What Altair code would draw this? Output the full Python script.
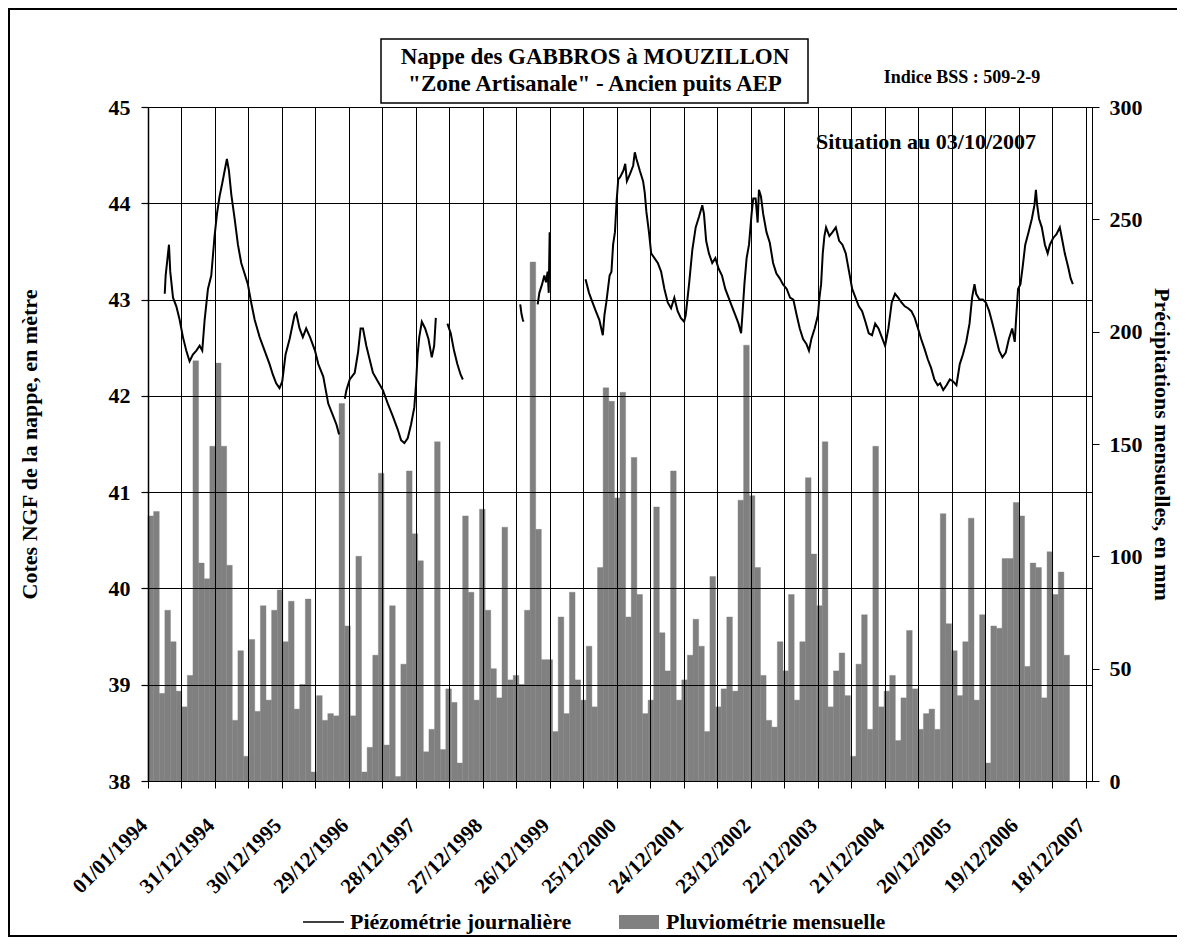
import datetime as dt
import altair as alt
import pandas as pd

FONT = "Liberation Serif"
GRAY = "#808080"

# ---------------- monthly rainfall (mm), Jan 1994 -> Aug 2007 ----------------
pluie_1994 = [118, 120, 39, 76, 62, 40, 33, 47, 187, 97, 90, 149]
pluie_1995 = [186, 149, 96, 27, 58, 11, 63, 31, 78, 36, 76, 85]
pluie_1996 = [62, 80, 32, 43, 81, 4, 38, 27, 30, 29, 168, 69]
pluie_1997 = [29, 100, 4, 15, 56, 137, 16, 78, 2, 52, 138, 110]
pluie_1998 = [98, 13, 23, 151, 14, 41, 35, 8, 118, 84, 36, 121]
pluie_1999 = [76, 50, 37, 113, 45, 47, 43, 76, 231, 112, 54, 54]
pluie_2000 = [22, 73, 30, 84, 45, 36, 60, 33, 95, 175, 169, 126]
pluie_2001 = [173, 73, 144, 83, 30, 36, 122, 66, 49, 138, 36, 45]
pluie_2002 = [56, 72, 60, 22, 91, 33, 41, 73, 40, 125, 194, 127]
pluie_2003 = [95, 47, 27, 24, 62, 49, 83, 36, 62, 135, 101, 78]
pluie_2004 = [151, 33, 49, 57, 38, 11, 52, 74, 23, 149, 33, 40]
pluie_2005 = [47, 18, 37, 67, 41, 23, 30, 32, 23, 119, 70, 58]
pluie_2006 = [38, 62, 117, 36, 74, 8, 69, 68, 99, 99, 124, 118]
pluie_2007 = [51, 97, 95, 37, 102, 83, 93, 56]

pluie = (pluie_1994 + pluie_1995 + pluie_1996 + pluie_1997 + pluie_1998 + pluie_1999
         + pluie_2000 + pluie_2001 + pluie_2002 + pluie_2003 + pluie_2004 + pluie_2005
         + pluie_2006 + pluie_2007)

# monthly categories of the rainfall axis (Jan 1994 .. Dec 2007)
mois = [f"{y}-{m:02d}" for y in range(1994, 2008) for m in range(1, 13)]

# ---------------- daily piezometry (m NGF) ----------------
# x = days since 01/01/1994
seg1_days = [91, 96, 114, 121, 136, 154, 172, 190, 208, 226, 244, 263, 281, 295, 308, 326, 344, 362,
             375, 389, 404, 417, 429, 440, 453, 471, 489, 507, 525, 543, 561, 580, 607, 634, 661, 679,
             697, 715, 730, 748, 770, 797, 806, 824, 842, 860, 881, 908, 926, 953, 980, 1007, 1025, 1039]
seg1_levels = [43.06, 43.25, 43.57, 43.29, 43.02, 42.93, 42.79, 42.61, 42.47, 42.36, 42.43, 42.47,
               42.52, 42.47, 42.79, 43.11, 43.25, 43.66, 43.89, 44.07, 44.21, 44.34, 44.46, 44.34,
               44.09, 43.84, 43.57, 43.38, 43.27, 43.16, 42.97, 42.79, 42.61, 42.47, 42.33, 42.22,
               42.13, 42.08, 42.15, 42.43, 42.59, 42.84, 42.86, 42.70, 42.61, 42.70, 42.61, 42.47,
               42.33, 42.20, 41.92, 41.79, 41.70, 41.60]

seg2_days = [1070, 1079, 1097, 1124, 1142, 1156, 1169, 1187, 1205, 1223, 1250, 1277, 1304, 1331,
             1358, 1376, 1394, 1412, 1430, 1448, 1457, 1466, 1475, 1489, 1507, 1525, 1543, 1556, 1565]
seg2_levels = [41.97, 42.06, 42.17, 42.24, 42.45, 42.70, 42.70, 42.52, 42.38, 42.24, 42.15, 42.06,
               41.92, 41.79, 41.65, 41.54, 41.51, 41.56, 41.70, 41.88, 42.11, 42.43, 42.61, 42.77,
               42.70, 42.59, 42.40, 42.52, 42.81]

seg3_days = [1628, 1646, 1664, 1682, 1700, 1712]
seg3_levels = [42.75, 42.65, 42.47, 42.33, 42.22, 42.17]

seg4_days = [2024, 2031, 2038, 2042]
seg4_levels = [42.95, 42.85, 42.79, 42.77]

seg5_days = [2119, 2128, 2143, 2155, 2164, 2173, 2179, 2184]
seg5_levels = [42.95, 43.07, 43.16, 43.25, 43.18, 43.29, 43.07, 43.70]

seg6_days = [2379, 2398, 2417, 2435, 2454, 2473, 2482, 2492, 2510, 2520, 2529, 2539, 2548, 2557,
             2567, 2585, 2595, 2604,
             2620, 2638, 2647, 2656, 2674, 2692, 2701, 2710, 2724, 2736, 2754, 2772, 2790, 2808,
             2826, 2844, 2862, 2880, 2897, 2915, 2924, 2942, 2960, 2978, 2996, 3014, 3023, 3035,
             3050, 3068, 3085, 3103, 3121, 3139, 3157, 3175, 3193, 3211, 3225, 3232, 3243, 3255,
             3268, 3282, 3291, 3304, 3315, 3322, 3333, 3345, 3363, 3381, 3399, 3417, 3435, 3452,
             3473, 3491, 3509, 3527, 3544, 3562, 3580, 3594, 3607, 3625, 3643, 3651, 3660, 3669,
             3678, 3687, 3705, 3722, 3740, 3758, 3776, 3794, 3812, 3829, 3847, 3865, 3883, 3901,
             3919, 3937, 3954, 3972, 3990, 4008, 4026, 4044, 4062, 4079, 4097, 4115, 4133, 4151,
             4169, 4187, 4204, 4222, 4240, 4258, 4276, 4294,
             4307, 4324, 4342, 4360, 4378, 4396, 4414, 4431, 4449, 4467, 4481, 4494, 4503, 4521,
             4539, 4556, 4574, 4592, 4610, 4628, 4646, 4664, 4681, 4699, 4713, 4720, 4731, 4744,
             4756, 4770, 4788, 4806, 4820, 4828, 4835, 4845, 4860, 4877, 4892, 4904, 4922, 4940,
             4958, 4967, 4985, 5003, 5017, 5029]
seg6_levels = [43.21, 43.07, 42.97, 42.88, 42.79, 42.63, 42.84, 42.97, 43.25, 43.29, 43.57, 43.70,
               44.02, 44.25, 44.27, 44.34, 44.41, 44.23,
               44.30, 44.39, 44.53, 44.46, 44.34, 44.23, 44.11, 43.91, 43.70, 43.48, 43.43, 43.38,
               43.29, 43.11, 42.97, 42.91, 43.02, 42.88, 42.81, 42.77, 42.84, 43.16, 43.52, 43.75,
               43.86, 43.98, 43.89, 43.61, 43.48, 43.38, 43.43, 43.32, 43.25, 43.11, 43.02, 42.93,
               42.84, 42.75, 42.65, 42.84, 43.16, 43.43, 43.57, 43.89, 44.05, 44.05, 43.80, 44.14,
               44.07, 43.89, 43.70, 43.59, 43.38, 43.27, 43.22, 43.16,
               43.11, 43.02, 43.00, 42.84, 42.70, 42.59, 42.54, 42.47, 42.59, 42.70, 42.84, 43.02,
               43.16, 43.48, 43.66, 43.75, 43.66, 43.70, 43.75, 43.61, 43.57, 43.48, 43.29, 43.11,
               43.02, 42.93, 42.88, 42.77, 42.65, 42.63, 42.75, 42.70, 42.61, 42.52, 42.70, 42.97,
               43.06, 43.02, 42.97, 42.93, 42.91, 42.88, 42.81, 42.70, 42.59, 42.49, 42.38, 42.29,
               42.17, 42.11,
               42.13, 42.06, 42.11, 42.17, 42.15, 42.11, 42.33, 42.43, 42.56, 42.75, 43.02, 43.16,
               43.06, 43.00, 43.00, 42.97, 42.88, 42.75, 42.61, 42.47, 42.40, 42.45, 42.59, 42.70,
               42.56, 42.79, 43.11, 43.16, 43.34, 43.57, 43.70, 43.84, 43.98, 44.14, 43.98, 43.84,
               43.75, 43.57, 43.48, 43.57, 43.64, 43.68, 43.75, 43.66, 43.48, 43.34, 43.22, 43.16]

segments = [(seg1_days, seg1_levels), (seg2_days, seg2_levels), (seg3_days, seg3_levels),
            (seg4_days, seg4_levels), (seg5_days, seg5_levels), (seg6_days, seg6_levels)]

# tick labels of the date axis (one label every 364 days, gridlines every 182 days)
date_labels = ["01/01/1994", "31/12/1994", "30/12/1995", "29/12/1996", "28/12/1997", "27/12/1998",
               "26/12/1999", "25/12/2000", "24/12/2001", "23/12/2002", "22/12/2003", "21/12/2004",
               "20/12/2005", "19/12/2006", "18/12/2007"]

START = dt.date(1994, 1, 1)
EPOCH = dt.date(1970, 1, 1)


def ms(d):
    return (d - EPOCH).days * 86400000


rows = []
for sid, (days, levels) in enumerate(segments):
    assert len(days) == len(levels), (sid, len(days), len(levels))
    for d, v in zip(days, levels):
        rows.append({"date": (START + dt.timedelta(days=d)).isoformat(), "niveau": v, "seg": sid})
line_df = pd.DataFrame(rows)

bars_df = pd.DataFrame({"mois": mois[:len(pluie)], "pluie": pluie})

# half-year gridlines, labels on every other one
tick_dates = []
for lab in date_labels:
    d = dt.datetime.strptime(lab, "%d/%m/%Y").date()
    tick_dates.append(d)
    if lab != date_labels[-1]:
        tick_dates.append(d + dt.timedelta(days=182))
tick_ms = [ms(d) for d in tick_dates]
T0 = ms(START)

W, H = 944, 674

bars = alt.Chart(bars_df).mark_bar(color=GRAY, stroke=GRAY, strokeWidth=0.4).encode(
    x=alt.X("mois:O", scale=alt.Scale(domain=mois, paddingInner=0, paddingOuter=0), axis=None),
    y=alt.Y("pluie:Q",
            scale=alt.Scale(domain=[0, 300], nice=False, zero=True),
            axis=alt.Axis(orient="right", values=[0, 50, 100, 150, 200, 250, 300], grid=False,
                          domainColor="black", domainWidth=1, tickColor="black", tickSize=7,
                          tickWidth=1, labelFont=FONT, labelFontSize=22, labelFontWeight="bold",
                          labelColor="black", labelPadding=10,
                          title="Précipitations mensuelles, en mm", titleFont=FONT,
                          titleFontSize=22, titleFontWeight="bold", titleColor="black",
                          titleAngle=90, titleX=69, titleY=H / 2, titleAlign="center",
                          titleBaseline="middle")),
)

line = alt.Chart(line_df).mark_line(color="black", strokeWidth=2).encode(
    x=alt.X("date:T",
            scale=alt.Scale(type="utc",
                            domain=[alt.DateTime(year=1994, month=1, date=1, utc=True),
                                    alt.DateTime(year=2008, month=1, date=21, utc=True)]),
            axis=alt.Axis(orient="bottom", values=tick_ms,
                          labelExpr=("round((datum.value - %d) / 86400000 / 182) %% 2 == 0 ? "
                                     "utcFormat(datum.value, '%%d/%%m/%%Y') : ''") % T0,
                          grid=True, gridColor="black", gridWidth=1, gridOpacity=1,
                          domainColor="black", domainWidth=1, tickColor="black", tickSize=7,
                          tickWidth=1, labelFont=FONT, labelFontSize=21, labelFontWeight="bold",
                          labelColor="black", labelAngle=315, labelAlign="right",
                          labelBaseline="middle", labelPadding=34, labelOffset=-4,
                          labelOverlap=False, labelFlush=False, labelBound=False,
                          title="", zindex=1)),
    y=alt.Y("niveau:Q",
            scale=alt.Scale(domain=[38, 45], nice=False, zero=False),
            axis=alt.Axis(orient="left", values=[38, 39, 40, 41, 42, 43, 44, 45], format="d",
                          grid=True, gridColor="black", gridWidth=1, gridOpacity=1,
                          domainColor="black", domainWidth=1.5, tickColor="black", tickSize=7,
                          tickWidth=1.2, labelFont=FONT, labelFontSize=22, labelFontWeight="bold",
                          labelColor="black", labelPadding=11,
                          title="Cotes NGF de la nappe, en mètre", titleFont=FONT,
                          titleFontSize=22, titleFontWeight="bold", titleColor="black",
                          titleAngle=270, titleX=-119, titleY=H / 2, titleAlign="center",
                          titleBaseline="middle", zindex=1)),
    detail=alt.Detail("seg:N"),
)

one = alt.Data(values=[{"k": 1}])


def txt(x, y, s, size=22, align="center"):
    return alt.Chart(one).mark_text(font=FONT, fontSize=size, fontWeight="bold", color="black",
                                    align=align, baseline="middle").encode(
        x=alt.value(x), y=alt.value(y), text=alt.value(s))


frame = alt.Chart(one).mark_rect(fillOpacity=0, stroke="black", strokeWidth=2).encode(
    x=alt.value(-139), x2=alt.value(1100), y=alt.value(-98), y2=alt.value(829))

title_box = alt.Chart(one).mark_rect(fill="white", stroke="black", strokeWidth=1.5).encode(
    x=alt.value(233), x2=alt.value(660), y=alt.value(-68), y2=alt.value(-4))

legend_line = alt.Chart(one).mark_rule(color="black", strokeWidth=1.5).encode(
    x=alt.value(155), x2=alt.value(196), y=alt.value(815))
legend_box = alt.Chart(one).mark_rect(color=GRAY).encode(
    x=alt.value(471), x2=alt.value(511), y=alt.value(808), y2=alt.value(822))

chart = alt.layer(
    bars,
    line,
    frame,
    title_box,
    txt(447, -50, "Nappe des GABBROS à MOUZILLON", 23),
    txt(447, -23, "\"Zone Artisanale\" - Ancien puits AEP", 23),
    txt(814, -29, "Indice BSS : 509-2-9", 18),
    txt(778, 35, "Situation au 03/10/2007", 22),
    legend_line,
    txt(202, 815, "Piézométrie journalière", 22, "left"),
    legend_box,
    txt(518, 815, "Pluviométrie mensuelle", 22, "left"),
).resolve_scale(
    x="independent", y="independent"
).properties(
    width=W, height=H,
    padding={"left": 140, "top": 99, "right": 85, "bottom": 157},
    autosize=alt.AutoSizeParams(type="none"),
).configure(
    background="white"
).configure_view(
    stroke="black", strokeWidth=1
)

chart.save("out.html", embed_options={"renderer": "svg", "actions": False})
